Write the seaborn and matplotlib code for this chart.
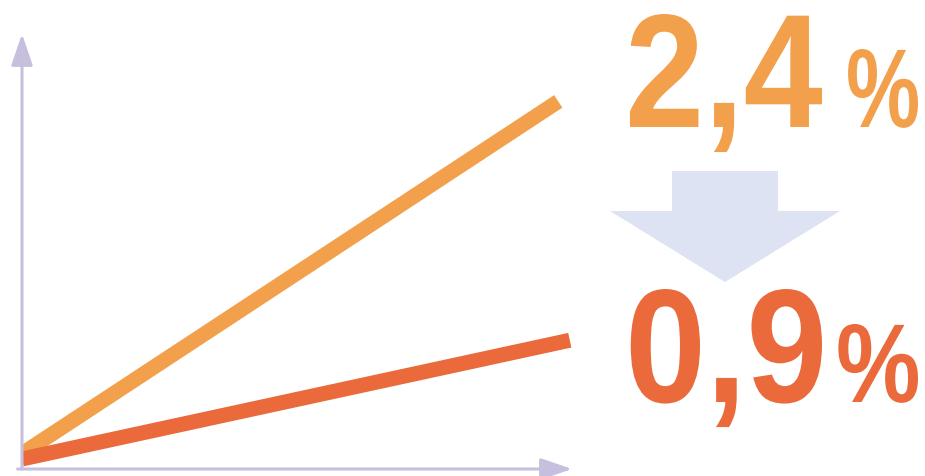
import pandas as pd
import seaborn as sns
import matplotlib.pyplot as plt
from matplotlib.patches import Polygon, PathPatch
from matplotlib.textpath import TextPath
from matplotlib.font_manager import FontProperties
from matplotlib.transforms import Affine2D

# growth lines, in axis fractions
x_fast = [0.0, 0.975]
y_fast = [0.035, 0.845]
x_slow = [0.0, 0.996]
y_slow = [0.023, 0.296]

top_label = "2,4"
bottom_label = "0,9"

orange = "#F3A04C"
red = "#EA6A3C"
axis_col = "#C6BFDD"
arrow_col = "#DDE3F3"

sns.set_theme(style="white")
plt.rcParams['font.family'] = ['Liberation Sans', 'DejaVu Sans']

W, H = 925, 477
fig = plt.figure(figsize=(W / 100, H / 100), dpi=100)
fig.patch.set_facecolor("white")

# chart axes placed in pixels: left 22, right 572, top 35, bottom 470
ax = fig.add_axes([22 / W, (H - 470) / H, 550 / W, 435 / H])
ax.set_facecolor("none")

df = pd.concat([
    pd.DataFrame({"x": x_fast, "y": y_fast, "series": "fast"}),
    pd.DataFrame({"x": x_slow, "y": y_slow, "series": "slow"}),
])
sns.lineplot(data=df, x="x", y="y", hue="series", palette=[orange, red],
             linewidth=10.8, legend=False, ax=ax, solid_capstyle="butt")
ax.set_xlim(0, 1)
ax.set_ylim(0, 1)
ax.set_axis_off()

# axis arrows
ax.annotate("", xy=(0, 1.0), xytext=(0, 0), xycoords="axes fraction",
            arrowprops=dict(arrowstyle="-|>,head_length=1.6,head_width=0.55",
                            color=axis_col, lw=2.2, shrinkA=0, shrinkB=0))
ax.annotate("", xy=(1.0, 0), xytext=(-0.008, 0), xycoords="axes fraction",
            arrowprops=dict(arrowstyle="-|>,head_length=1.6,head_width=0.55",
                            color=axis_col, lw=2.2, shrinkA=0, shrinkB=0))

# overlay in pixel coordinates for the labels and the big arrow
ov = fig.add_axes([0, 0, 1, 1])
ov.set_xlim(0, W)
ov.set_ylim(H, 0)
ov.set_axis_off()
ov.patch.set_alpha(0)

ov.add_patch(Polygon([(672, 172), (778, 172), (778, 212), (840, 212),
                      (725, 283), (610, 212), (672, 212)],
                     closed=True, facecolor=arrow_col, edgecolor="none"))

bold = FontProperties(family="Liberation Sans", weight="bold")


def put_text(s, x0, x1, top, base, color):
    # squeeze the glyph outlines into the box seen in the reference
    p = TextPath((0, 0), s, size=100, prop=bold)
    v = p.vertices
    xmin, xmax = v[:, 0].min(), v[:, 0].max()
    ytop = v[:, 1].max()
    sx = (x1 - x0) / (xmax - xmin)
    sy = (base - top) / ytop
    tr = Affine2D().translate(-xmin, 0).scale(sx, -sy).translate(x0, base)
    ov.add_patch(PathPatch(tr.transform_path(p), facecolor=color,
                           edgecolor="none"))


put_text(top_label, 625, 822, 15, 128, orange)
put_text("%", 846, 918, 50, 128, orange)
put_text(bottom_label, 625, 822, 290, 403, red)
put_text("%", 836, 918, 325, 403, red)

fig.savefig("out.png", dpi=100, facecolor="white")
